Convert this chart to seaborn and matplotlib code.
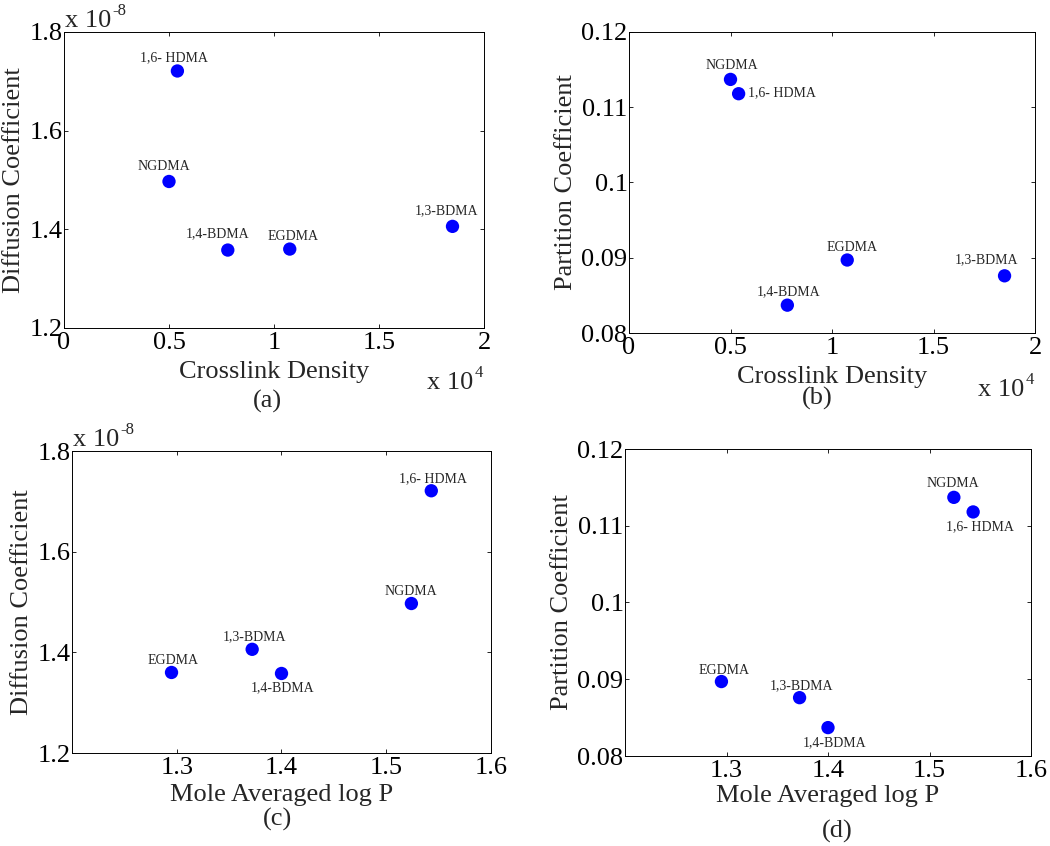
import numpy as np
import pandas as pd
import matplotlib
matplotlib.use("Agg")
import matplotlib.pyplot as plt
import seaborn as sns

# ---------------- data ----------------
monomers = ["NGDMA", "1,6- HDMA", "1,4-BDMA", "EGDMA", "1,3-BDMA"]
crosslink_density = [5000, 5400, 7800, 10750, 18500]
mole_avg_logp = [1.524, 1.543, 1.400, 1.295, 1.372]
diffusion_coef = [1.497e-8, 1.721e-8, 1.358e-8, 1.360e-8, 1.406e-8]
partition_coef = [0.1137, 0.1118, 0.0837, 0.0897, 0.0876]

xticks_cross = [0, 0.5, 1, 1.5, 2]
xticklabels_cross = ["0", "0.5", "1", "1.5", "2"]
xticks_logp = [1.3, 1.4, 1.5, 1.6]
xticklabels_logp = ["1.3", "1.4", "1.5", "1.6"]
yticks_D = [1.2, 1.4, 1.6, 1.8]
yticklabels_D = ["1.2", "1.4", "1.6", "1.8"]
yticks_K = [0.08, 0.09, 0.10, 0.11, 0.12]
yticklabels_K = ["0.08", "0.09", "0.1", "0.11", "0.12"]

df = pd.DataFrame({
    "name": monomers,
    "cross": np.array(crosslink_density) / 1e4,
    "logp": mole_avg_logp,
    "D": np.array(diffusion_coef) / 1e-8,
    "K": partition_coef,
})

# ---------------- style ----------------
sns.set_style("ticks")
plt.rcParams["font.family"] = ["Liberation Serif", "DejaVu Serif"]
plt.rcParams["axes.linewidth"] = 0.7
plt.rcParams["xtick.direction"] = "in"
plt.rcParams["ytick.direction"] = "in"

FS = 19
W, H = 1050, 846
fig = plt.figure(figsize=(W / 100, H / 100), dpi=100)

def add_axes(l, t, r, b):
    return fig.add_axes([l / W, 1 - b / H, (r - l) / W, (b - t) / H])

panels = [
    dict(box=(64, 32, 484, 328), x="cross", y="D", xlim=(0, 2), ylim=(1.2, 1.8),
         xt=xticks_cross, xtl=xticklabels_cross, yt=yticks_D, ytl=yticklabels_D,
         xlabel="Crosslink Density", ylabel="Diffusion Coefficient",
         ylab_x=-0.093, xlab_dy=33, yexp="-8", xexp="4", xexp_dy=61,
         tag="(a)", tagpos=(267, 401),
         off={"NGDMA": (-5, 15), "1,6- HDMA": (-3, 13), "1,4-BDMA": (-10, 16),
              "EGDMA": (3, 13), "1,3-BDMA": (-6, 16)}),
    dict(box=(629, 32, 1035, 333), x="cross", y="K", xlim=(0, 2), ylim=(0.08, 0.12),
         xt=xticks_cross, xtl=xticklabels_cross, yt=yticks_K, ytl=yticklabels_K,
         xlabel="Crosslink Density", ylabel="Partition Coefficient",
         ylab_x=-0.128, xlab_dy=33, yexp=None, xexp="4", xexp_dy=63,
         tag="(b)", tagpos=(817, 398),
         off={"NGDMA": (1, 14), "1,6- HDMA": (43, 1), "1,4-BDMA": (1, 13),
              "EGDMA": (5, 13), "1,3-BDMA": (-18, 16)}),
    dict(box=(72, 451, 491, 753), x="logp", y="D", xlim=(1.2, 1.6), ylim=(1.2, 1.8),
         xt=xticks_logp, xtl=xticklabels_logp, yt=yticks_D, ytl=yticklabels_D,
         xlabel="Mole Averaged log P", ylabel="Diffusion Coefficient",
         ylab_x=-0.093, xlab_dy=31, yexp="-8", xexp=None, xexp_dy=0,
         tag="(c)", tagpos=(277, 819),
         off={"NGDMA": (-1, 12), "1,6- HDMA": (2, 12), "1,4-BDMA": (1, -14),
              "EGDMA": (2, 12), "1,3-BDMA": (2, 13)}),
    dict(box=(625, 449, 1031, 756), x="logp", y="K", xlim=(1.2, 1.6), ylim=(0.08, 0.12),
         xt=xticks_logp, xtl=xticklabels_logp, yt=yticks_K, ytl=yticklabels_K,
         xlabel="Mole Averaged log P", ylabel="Partition Coefficient",
         ylab_x=-0.128, xlab_dy=29, yexp=None, xexp=None, xexp_dy=0,
         tag="(d)", tagpos=(837, 831),
         off={"NGDMA": (-1, 14), "1,6- HDMA": (7, -15), "1,4-BDMA": (7, -15),
              "EGDMA": (3, 11), "1,3-BDMA": (2, 12)}),
]

def power_label(ax, xy, off, exp, ha):
    # "x 10" followed by a raised exponent, drawn as two plain texts
    base = ax.annotate("x 10", xy, xycoords="axes fraction", xytext=off,
                       textcoords="offset pixels", ha="left", va="baseline",
                       fontsize=FS)
    fig.canvas.draw()
    bb = base.get_window_extent()
    sup = ax.annotate(exp, xy, xycoords="axes fraction",
                      xytext=(off[0] + bb.width + 1, off[1] + 12),
                      textcoords="offset pixels", ha="left", va="baseline",
                      fontsize=12)
    if ha == "right":
        fig.canvas.draw()
        total = bb.width + 1 + sup.get_window_extent().width
        base.set_position((off[0] - total, off[1]))
        sup.set_position((off[0] - total + bb.width + 1, off[1] + 12))

for p in panels:
    l, t, r, b = p["box"]
    ax = add_axes(l, t, r, b)
    sns.scatterplot(data=df, x=p["x"], y=p["y"], ax=ax, color="#0000ff",
                    s=92, edgecolor="none", linewidth=0, legend=False, zorder=3)
    ax.set_xlim(*p["xlim"])
    ax.set_ylim(*p["ylim"])
    ax.set_xticks(p["xt"])
    ax.set_xticklabels(p["xtl"])
    ax.set_yticks(p["yt"])
    ax.set_yticklabels(p["ytl"])
    for s in ax.spines.values():
        s.set_visible(True)
        s.set_linewidth(0.7)
        s.set_color("black")
    ax.tick_params(axis="both", which="both", direction="in", length=3, width=0.6,
                   top=True, right=True, labelsize=FS, colors="black")
    ax.tick_params(axis="y", pad=1)
    ax.tick_params(axis="x", pad=3)
    ax.set_xlabel(p["xlabel"], fontsize=FS)
    ax.set_ylabel(p["ylabel"], fontsize=FS)
    ax.yaxis.set_label_coords(p["ylab_x"], 0.5)
    ax.xaxis.set_label_coords(0.5, -p["xlab_dy"] / (b - t))
    ax.xaxis.label.set_va("top")
    for _, row in df.iterrows():
        dx, dy = p["off"][row["name"]]
        ax.annotate(row["name"], (row[p["x"]], row[p["y"]]), xytext=(dx, dy),
                    textcoords="offset pixels", ha="center", va="center",
                    fontsize=10, zorder=4)
    if p["yexp"]:
        power_label(ax, (0, 1), (1, 5), p["yexp"], "left")
    if p["xexp"]:
        power_label(ax, (1, 0), (-1, -p["xexp_dy"]), p["xexp"], "right")
    tx, ty = p["tagpos"]
    fig.text(tx / W, 1 - ty / H, p["tag"], ha="center", va="center", fontsize=FS)

fig.savefig("out.png", dpi=100)
